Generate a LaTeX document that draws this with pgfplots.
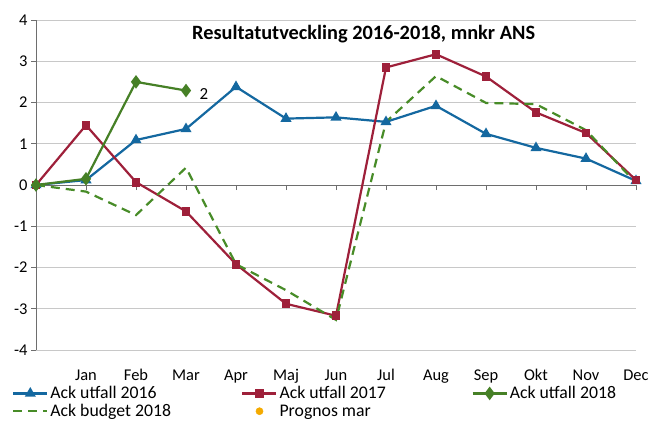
\documentclass[border=0pt]{standalone}
\usepackage{pgfplots}
\pgfplotsset{compat=1.18}
\usepackage{fontspec}
\setmainfont{Carlito}
\definecolor{cblue}{RGB}{20,104,160}
\definecolor{cred}{RGB}{158,32,58}
\definecolor{cgreen}{RGB}{70,128,38}
\definecolor{cdash}{RGB}{72,140,40}
\definecolor{corange}{RGB}{244,170,0}
\definecolor{cgrid}{RGB}{200,200,200}
\definecolor{caxis}{RGB}{110,110,110}
\begin{document}
\begin{tikzpicture}
\useasboundingbox (-36bp,-71bp) rectangle (615bp,350bp);
\begin{axis}[
  at={(0,0)}, anchor=south west,
  scale only axis, width=600bp, height=330bp,
  xmin=0, xmax=12, ymin=-4, ymax=4,
  axis x line=middle, axis y line=left,
  axis line style={-, draw=caxis, line width=0.9bp},
  xtick={1,...,12},
  xticklabels={Jan,Feb,Mar,Apr,Maj,Jun,Jul,Aug,Sep,Okt,Nov,Dec},
  ytick={-4,-3,...,4},
  hide obscured y ticks=false,
  tick align=outside,
  major tick length=5bp,
  tick style={draw=caxis, line width=0.8bp},
  ymajorgrids, grid style={draw=cgrid, line width=0.8bp},
  tick label style={font=\fontsize{16.5}{19}\selectfont, text=black},
  xticklabel style={yshift=-176bp},
  /pgf/number format/assume math mode=true,
  title={Resultatutveckling 2016-2018, mnkr ANS},
  title style={at={(0.546,0.939)}, anchor=center, font=\bfseries\fontsize{20.4}{24}\selectfont},
  legend columns=3,
  legend cell align=left,
  legend style={draw=none, fill=none, at={(-0.04,-0.104)}, anchor=north west,
    font=\fontsize{17.8}{19}\selectfont, inner sep=0pt,
    /tikz/every even column/.append style={column sep=0pt}},
  legend image code/.code={\draw[mark repeat=2,mark phase=2] plot coordinates {(0bp,0bp) (17bp,0bp) (34bp,0bp)};},
]
\addplot[cblue, line width=2.2bp, mark=triangle*, mark size=4.2bp, mark options={solid}] coordinates {
(0,0) (1,0.12) (2,1.09) (3,1.36) (4,2.38) (5,1.61) (6,1.64) (7,1.53) (8,1.92) (9,1.24) (10,0.90) (11,0.64) (12,0.10)};
\addlegendentry{\makebox[189bp][l]{Ack utfall 2016}}
\addplot[cred, line width=2.2bp, mark=square*, mark size=3.3bp, mark options={solid}] coordinates {
(0,0) (1,1.45) (2,0.07) (3,-0.64) (4,-1.92) (5,-2.88) (6,-3.17) (7,2.85) (8,3.17) (9,2.63) (10,1.76) (11,1.26) (12,0.12)};
\addlegendentry{\makebox[190bp][l]{Ack utfall 2017}}
\addplot[cgreen, line width=2.2bp, mark=diamond*, mark size=5bp, mark options={solid}] coordinates {
(0,0) (1,0.15) (2,2.50) (3,2.29)};
\addlegendentry{Ack utfall 2018}
\addplot[cdash, line width=2.2bp, dash pattern=on 9bp off 6bp] coordinates {
(0,0) (1,-0.16) (2,-0.73) (3,0.42) (4,-1.92) (5,-2.55) (6,-3.27) (7,1.53) (8,2.64) (9,1.99) (10,1.96) (11,1.33) (12,0.05)};
\addlegendentry{\makebox[189bp][l]{Ack budget 2018}}
\addlegendimage{corange, legend image code/.code={\fill[corange] (17bp,0bp) circle (3.6bp);}}
\addlegendentry{\makebox[190bp][l]{Prognos mar}}
\addplot[draw=none, forget plot, nodes near coords={2},
  every node near coord/.append style={anchor=west, xshift=10bp, yshift=-3bp, font=\fontsize{17}{20}\selectfont, text=black}]
  coordinates {(3,2.29)};
\end{axis}
\end{tikzpicture}
\end{document}
